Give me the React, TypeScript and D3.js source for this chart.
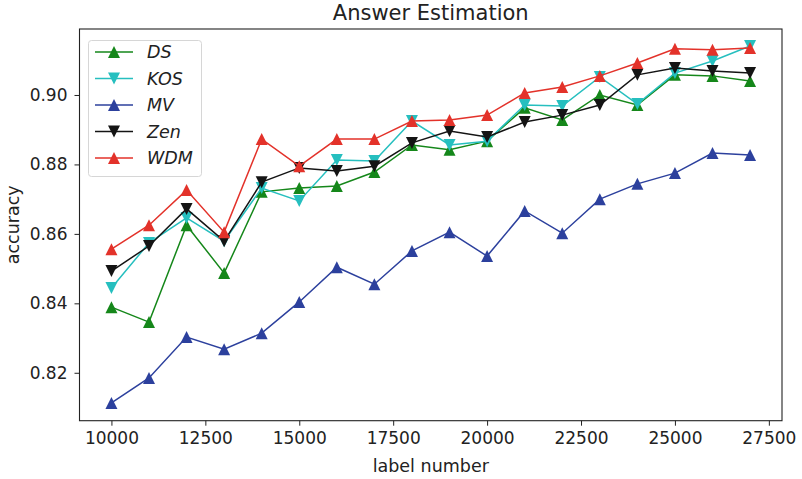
import React, { useEffect, useRef } from 'react';
import * as d3 from 'd3';

const labelNumbers = [10000, 11000, 12000, 13000, 14000, 15000, 16000, 17000, 18000, 19000, 20000, 21000, 22000, 23000, 24000, 25000, 26000, 27000];

const dsValues = [0.8389, 0.8346, 0.8625, 0.8487, 0.8721, 0.8732, 0.8738, 0.8778, 0.8856, 0.8842, 0.8867, 0.8963, 0.8928, 0.9000, 0.8971, 0.9058, 0.9055, 0.9040];
const kosValues = [0.8444, 0.8574, 0.8646, 0.8579, 0.8732, 0.8695, 0.8813, 0.8810, 0.8925, 0.8856, 0.8867, 0.8971, 0.8968, 0.9052, 0.8974, 0.9063, 0.9098, 0.9141];
const mvValues = [0.8113, 0.8185, 0.8303, 0.8268, 0.8314, 0.8404, 0.8504, 0.8455, 0.8551, 0.8605, 0.8536, 0.8666, 0.8602, 0.8700, 0.8744, 0.8775, 0.8833, 0.8827];
const zenValues = [0.8493, 0.8565, 0.8672, 0.8579, 0.8749, 0.8790, 0.8781, 0.8795, 0.8862, 0.8896, 0.8879, 0.8922, 0.8942, 0.8971, 0.9058, 0.9078, 0.9069, 0.9063];
const wdmValues = [0.8556, 0.8625, 0.8726, 0.8605, 0.8873, 0.8795, 0.8873, 0.8873, 0.8925, 0.8928, 0.8942, 0.9006, 0.9023, 0.9055, 0.9092, 0.9133, 0.9130, 0.9135];

const seriesNames = ['DS', 'KOS', 'MV', 'Zen', 'WDM'];
const seriesColors = ['#15871a', '#26bfbf', '#2c409d', '#141414', '#e3322a'];
const seriesMarkers = ['up', 'down', 'up', 'down', 'up'];

const xTicks = [10000, 12500, 15000, 17500, 20000, 22500, 25000, 27500];
const yTicks = [0.82, 0.84, 0.86, 0.88, 0.90];

const font = 'DejaVu Sans, sans-serif';

function trianglePath(kind: string, s: number) {
  // matplotlib style triangle, centered on the point
  if (kind === 'up') return `M0,${-s}L${-s},${s}L${s},${s}Z`;
  return `M0,${s}L${-s},${-s}L${s},${-s}Z`;
}

function App() {
  const ref = useRef<SVGSVGElement>(null);

  useEffect(() => {
    const width = 802;
    const height = 479;
    const left = 79.5;
    const right = 782;
    const top = 29;
    const bottom = 420.7;

    const svg = d3.select(ref.current);
    svg.selectAll('*').remove();

    svg.append('rect').attr('width', width).attr('height', height).attr('fill', '#fff');

    const allValues = [dsValues, kosValues, mvValues, zenValues, wdmValues];

    const xScale = d3.scaleLinear().domain([9150, 27850]).range([left, right]);
    const yScale = d3.scaleLinear().domain([0.8062, 0.919]).range([bottom, top]);

    // x axis
    const xAxis = d3.axisBottom(xScale).tickValues(xTicks).tickSize(5).tickPadding(6).tickFormat(d3.format('d'));
    const gx = svg.append('g').attr('transform', `translate(0,${bottom})`).call(xAxis);
    gx.select('.domain').remove();
    gx.selectAll('line').attr('stroke', '#222').attr('stroke-width', 1);
    gx.selectAll('text').attr('font-family', font).attr('font-size', 17).attr('fill', '#222');

    // y axis
    const yAxis = d3.axisLeft(yScale).tickValues(yTicks).tickSize(5).tickPadding(7).tickFormat(d3.format('.2f'));
    const gy = svg.append('g').attr('transform', `translate(${left},0)`).call(yAxis);
    gy.select('.domain').remove();
    gy.selectAll('line').attr('stroke', '#222').attr('stroke-width', 1);
    gy.selectAll('text').attr('font-family', font).attr('font-size', 17).attr('fill', '#222');

    const line = d3.line<number>()
      .x((d, i) => xScale(labelNumbers[i]))
      .y((d) => yScale(d));

    const plot = svg.append('g');
    allValues.forEach((vals, k) => {
      plot.append('path')
        .attr('d', line(vals))
        .attr('fill', 'none')
        .attr('stroke', seriesColors[k])
        .attr('stroke-width', 1.5);
      plot.selectAll(`.m${k}`)
        .data(vals)
        .enter()
        .append('path')
        .attr('class', `m${k}`)
        .attr('transform', (d, i) => `translate(${xScale(labelNumbers[i])},${yScale(d)})`)
        .attr('d', trianglePath(seriesMarkers[k], 6))
        .attr('fill', seriesColors[k]);
    });

    // frame
    svg.append('rect')
      .attr('x', left).attr('y', top)
      .attr('width', right - left).attr('height', bottom - top)
      .attr('fill', 'none').attr('stroke', '#222').attr('stroke-width', 1.1);

    // legend
    const lg = svg.append('g');
    lg.append('rect')
      .attr('x', 88.5).attr('y', 40.5).attr('width', 113).attr('height', 136).attr('rx', 3)
      .attr('fill', '#fff').attr('fill-opacity', 0.8).attr('stroke', '#d6d6d6');
    seriesNames.forEach((name, k) => {
      const y = 52 + k * 26.5;
      lg.append('line').attr('x1', 95).attr('x2', 133).attr('y1', y).attr('y2', y)
        .attr('stroke', seriesColors[k]).attr('stroke-width', 1.5);
      lg.append('path').attr('transform', `translate(114,${y})`)
        .attr('d', trianglePath(seriesMarkers[k], 6)).attr('fill', seriesColors[k]);
      lg.append('text').attr('x', 147).attr('y', y).attr('dy', '0.36em')
        .attr('font-family', font).attr('font-style', 'italic').attr('font-size', 17.5)
        .attr('fill', '#222').text(name);
    });

    // titles
    svg.append('text').attr('x', (left + right) / 2).attr('y', 20)
      .attr('text-anchor', 'middle').attr('font-family', font).attr('font-size', 21)
      .attr('fill', '#222').text('Answer Estimation');
    svg.append('text').attr('x', (left + right) / 2).attr('y', 472)
      .attr('text-anchor', 'middle').attr('font-family', font).attr('font-size', 17.5)
      .attr('fill', '#222').text('label number');
    svg.append('text').attr('transform', `translate(18.5,${(top + bottom) / 2}) rotate(-90)`)
      .attr('text-anchor', 'middle').attr('font-family', font).attr('font-size', 17.5)
      .attr('fill', '#222').text('accuracy');
  }, []);

  return (
    <div style={{ position: 'absolute', left: 0, top: 0 }}>
      <svg ref={ref} width={802} height={479} style={{ display: 'block' }} />
    </div>
  );
}

export default App;
